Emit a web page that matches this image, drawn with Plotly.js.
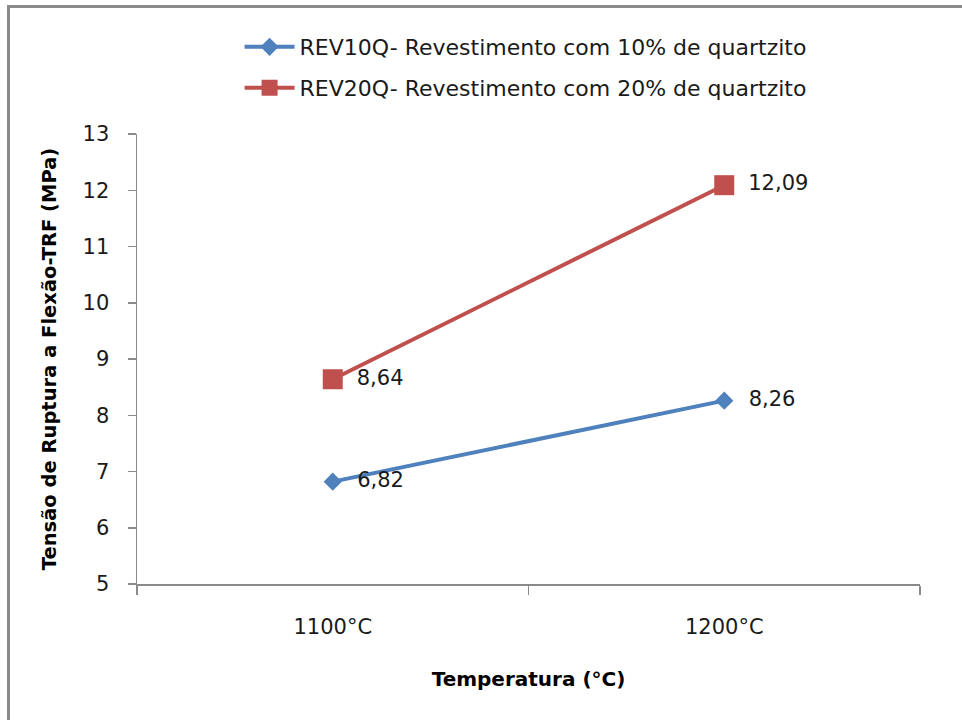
<!DOCTYPE html>
<html>
<head>
<meta charset="utf-8">
<script src="https://cdn.plot.ly/plotly-3.0.1.min.js"></script>
<style>
html,body{margin:0;padding:0;background:#fff;}
#frame{position:absolute;left:7px;top:5px;width:960px;height:720px;border-left:3px solid #8a8a8a;border-top:3px solid #8a8a8a;pointer-events:none;z-index:5;}
#chart{position:absolute;left:0;top:0;width:962px;height:720px;}
</style>
</head>
<body>
<div id="chart"></div>
<div id="frame"></div>
<script>
var categories = ["1100°C", "1200°C"];
var rev10q = [6.82, 8.26];
var rev20q = [8.64, 12.09];
var seriesNames = ["REV10Q- Revestimento com 10% de quartzito", "REV20Q- Revestimento com 20% de quartzito"];
var yTicks = [5, 6, 7, 8, 9, 10, 11, 12, 13];

var fontFam = "'DejaVu Sans', sans-serif";
var txtColor = "#1a1a1a";

var traces = [
  {
    x: categories, y: rev10q, name: seriesNames[0], type: "scatter",
    mode: "lines+markers+text", texttemplate: "\u2002\u2009%{y:.2f}", textposition: "middle right",
    textfont: {family: fontFam, size: 21, color: txtColor},
    line: {color: "#4F81BD", width: 4},
    marker: {symbol: "diamond", size: 14, color: "#4F81BD"},
    legend: "legend", cliponaxis: false
  },
  {
    x: categories, y: rev20q, name: seriesNames[1], type: "scatter",
    mode: "lines+markers+text", texttemplate: "\u2002%{y:.2f}", textposition: "middle right",
    textfont: {family: fontFam, size: 21, color: txtColor},
    line: {color: "#C0504D", width: 4},
    marker: {symbol: "square", size: 20, color: "#C0504D"},
    legend: "legend2", cliponaxis: false
  }
];

var legendCommon = {
  font: {family: fontFam, size: 22, color: txtColor},
  bgcolor: "rgba(0,0,0,0)", xanchor: "left", yanchor: "middle",
  itemwidth: 50
};

var layout = {
  width: 962, height: 720,
  margin: {l: 137, r: 42, t: 134, b: 136},
  separators: ",.",
  paper_bgcolor: "rgba(0,0,0,0)", plot_bgcolor: "rgba(0,0,0,0)",
  font: {family: fontFam, color: txtColor},
  showlegend: true,
  legend: Object.assign({}, legendCommon, {x: 0.131, y: (584 - 47) / 450}),
  legend2: Object.assign({}, legendCommon, {x: 0.131, y: (584 - 88) / 450}),
  xaxis: {
    type: "category", range: [-0.5, 1.5],
    showline: true, linecolor: "#8a8a8a", linewidth: 1.5,
    ticks: "outside", tickson: "boundaries", ticklen: 9, tickcolor: "#8a8a8a", tickwidth: 1.5,
    showgrid: false, zeroline: false,
    tickfont: {family: fontFam, size: 21, color: txtColor},
    ticklabelstandoff: 23,
    title: {text: "<b>Temperatura (°C)</b>", font: {family: fontFam, size: 20, color: "#000"}, standoff: 34}
  },
  yaxis: {
    range: [5, 13], tickvals: yTicks,
    showline: true, linecolor: "#8a8a8a", linewidth: 1.5,
    ticks: "outside", ticklen: 8, tickcolor: "#8a8a8a", tickwidth: 1.5,
    showgrid: false, zeroline: false,
    tickfont: {family: fontFam, size: 21, color: txtColor},
    ticklabelstandoff: 14,
    title: {text: "<b>Tensão de Ruptura a Flexão-TRF (MPa)</b>", font: {family: fontFam, size: 19.5, color: "#000"}, standoff: 20}
  }
};

Plotly.newPlot("chart", traces, layout, {displayModeBar: false, staticPlot: true});
</script>
</body>
</html>
